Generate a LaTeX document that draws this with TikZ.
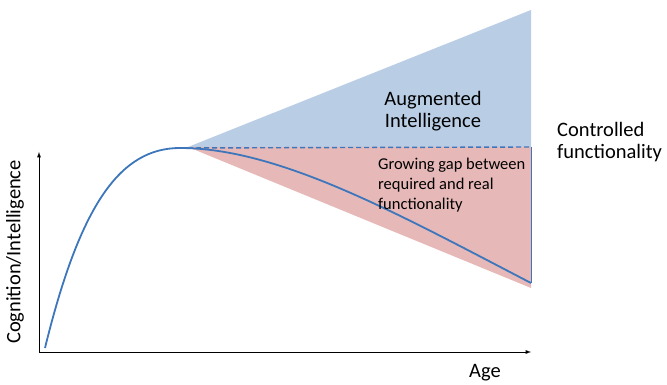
\documentclass[tikz,border=0pt]{standalone}
\usepackage{fontspec}
\setmainfont{Carlito}
\usepackage{xcolor}
\usetikzlibrary{positioning}

\definecolor{curveblue}{RGB}{62,118,188}
\definecolor{augblue}{RGB}{185,205,229}
\definecolor{gapred}{RGB}{230,185,184}

\tikzset{
  axis/.style={line width=0.9pt,-latex},
  curve/.style={curveblue,line width=1.8pt},
  bigtext/.style={font=\fontsize{20.5}{22}\selectfont,align=left,inner sep=0pt},
  smalltext/.style={font=\fontsize{16.5}{20}\selectfont,align=left,anchor=west,inner sep=0pt}
}

\begin{document}
\begin{tikzpicture}[x=1pt,y=-1pt]
\useasboundingbox (0,0) rectangle (667,385);

\coordinate (origin) at (39,352);
\coordinate (ytop) at (39,152);
\coordinate (xend) at (531,352);
\coordinate (apex) at (188,147);
\coordinate (augtop) at (531,10);
\coordinate (ctrl) at (531,147);
\coordinate (gapbot) at (531,288);
\coordinate (start) at (45,348);
\coordinate (peak) at (180,148);
\coordinate (final) at (531,283);

% shaded areas
\fill[augblue] (apex) -- (augtop) -- (ctrl) -- cycle;
\fill[gapred] (apex) -- (ctrl) -- (gapbot) -- cycle;

% axes
\draw[axis] (origin) -- (ytop);
\draw[axis] (origin) -- (xend);

% controlled functionality
\draw[curveblue,dash pattern=on 5pt off 3pt,line width=1.4pt] (peak) -- (ctrl);
\draw[curveblue,line width=0.9pt] (ctrl) -- (final);

% cognition curve
\draw[curve] (start) .. controls (80,205) and (120,148) .. (peak);
\draw[curve] (peak) .. controls (280,148) and (400,215) .. (final);

% labels
\node[bigtext,rotate=90] (ylab) at (15,252) {Cognition/Intelligence};
\node[bigtext] (xlab) at (485,373) {Age};
\node[bigtext,align=center] (aug) at (433,111) {Augmented\\Intelligence};
\node[bigtext,anchor=west] (ctl) at (557,142) {Controlled\\functionality};
\node[smalltext] (gap) at (378,185) {Growing gap between\\required and real\\functionality};

\end{tikzpicture}
\end{document}
